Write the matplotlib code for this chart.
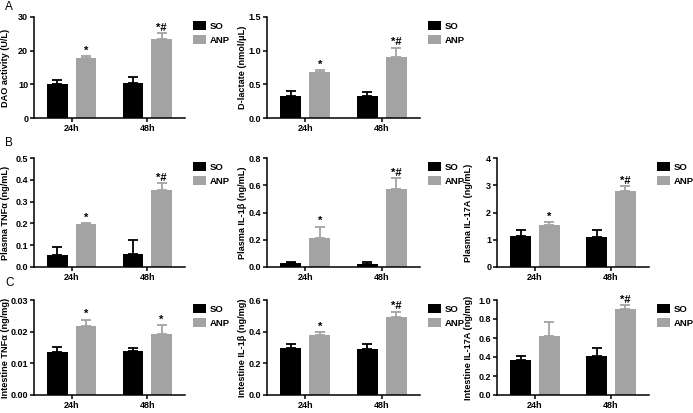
import matplotlib
matplotlib.use("Agg")
import matplotlib.pyplot as plt
import numpy as np

plt.rcParams['font.family'] = ['Liberation Sans', 'DejaVu Sans']

groups = ["24h", "48h"]
series = ["SO", "ANP"]
colors = ["#000000", "#a3a3a3"]

# means and upper error (SEM)
dao_so, dao_so_err = [10.0, 10.4], [1.3, 1.8]
dao_anp, dao_anp_err = [17.8, 23.6], [0.5, 1.6]

dlac_so, dlac_so_err = [0.32, 0.32], [0.08, 0.07]
dlac_anp, dlac_anp_err = [0.69, 0.90], [0.02, 0.14]

ptnf_so, ptnf_so_err = [0.055, 0.060], [0.037, 0.066]
ptnf_anp, ptnf_anp_err = [0.197, 0.353], [0.005, 0.032]

pil1_so, pil1_so_err = [0.030, 0.022], [0.005, 0.018]
pil1_anp, pil1_anp_err = [0.215, 0.570], [0.080, 0.080]

pil17_so, pil17_so_err = [1.15, 1.10], [0.22, 0.25]
pil17_anp, pil17_anp_err = [1.55, 2.80], [0.10, 0.17]

itnf_so, itnf_so_err = [0.0137, 0.0140], [0.0015, 0.0010]
itnf_anp, itnf_anp_err = [0.0218, 0.0193], [0.0020, 0.0027]

iil1_so, iil1_so_err = [0.295, 0.293], [0.025, 0.030]
iil1_anp, iil1_anp_err = [0.380, 0.490], [0.015, 0.035]

iil17_so, iil17_so_err = [0.37, 0.41], [0.04, 0.08]
iil17_anp, iil17_anp_err = [0.62, 0.905], [0.15, 0.04]

panels = [
    # row, col, ylabel, so, so_err, anp, anp_err, ymax, step, fmt, marks
    (0, 0, "DAO activity (U/L)", dao_so, dao_so_err, dao_anp, dao_anp_err, 30, 10, "%d", ["*", "*#"]),
    (0, 1, "D-lactate (nmol/\u03bcL)", dlac_so, dlac_so_err, dlac_anp, dlac_anp_err, 1.5, 0.5, "%.1f", ["*", "*#"]),
    (1, 0, "Plasma TNF\u03b1 (ng/mL)", ptnf_so, ptnf_so_err, ptnf_anp, ptnf_anp_err, 0.5, 0.1, "%.1f", ["*", "*#"]),
    (1, 1, "Plasma IL-1\u03b2 (ng/mL)", pil1_so, pil1_so_err, pil1_anp, pil1_anp_err, 0.8, 0.2, "%.1f", ["*", "*#"]),
    (1, 2, "Plasma IL-17A (ng/mL)", pil17_so, pil17_so_err, pil17_anp, pil17_anp_err, 4, 1, "%d", ["*", "*#"]),
    (2, 0, "Intestine TNF\u03b1 (ng/mg)", itnf_so, itnf_so_err, itnf_anp, itnf_anp_err, 0.03, 0.01, "%.2f", ["*", "*"]),
    (2, 1, "Intestine IL-1\u03b2 (ng/mg)", iil1_so, iil1_so_err, iil1_anp, iil1_anp_err, 0.6, 0.2, "%.1f", ["*", "*#"]),
    (2, 2, "Intestine IL-17A (ng/mg)", iil17_so, iil17_so_err, iil17_anp, iil17_anp_err, 1.0, 0.2, "%.1f", ["", "*#"]),
]

W, H = 693, 413
fig = plt.figure(figsize=(W / 100, H / 100), dpi=100)

col_left = [34, 267, 497]
col_w = [151, 153, 152]
label_px = [10, 247, 473]   # right edge of the rotated y label, in pixels
rows = [(17, 118), (158, 267), (300, 395)]

for row, col, ylabel, so, so_err, anp, anp_err, ymax, step, fmt, marks in panels:
    top, bot = rows[row]
    ax = fig.add_axes([col_left[col] / W, 1 - bot / H, col_w[col] / W, (bot - top) / H])
    x = np.arange(len(groups))
    bw, off = 0.27, 0.19
    for k, (vals, errs) in enumerate([(so, so_err), (anp, anp_err)]):
        xs = x + (off if k else -off)
        ax.bar(xs, vals, bw, color=colors[k], label=series[k], zorder=2)
        ax.errorbar(xs, vals, yerr=[np.zeros(len(vals)), errs], fmt="none",
                    ecolor=colors[k], elinewidth=1.3, capsize=3.5, capthick=1.3, zorder=1)
    for i, m in enumerate(marks):
        if m:
            ax.text(x[i] + off, anp[i] + anp_err[i] + ymax * 0.005, m, ha="center",
                    va="bottom", fontsize=8, fontweight="bold")
    ax.set_xlim(-0.5, 1.5)
    ax.set_ylim(0, ymax)
    ax.set_yticks(np.arange(0, ymax + step / 2, step))
    ax.yaxis.set_major_formatter(matplotlib.ticker.FormatStrFormatter(fmt))
    ax.set_xticks(x)
    ax.set_xticklabels(groups)
    for s in ("top", "right"):
        ax.spines[s].set_visible(False)
    for s in ("left", "bottom"):
        ax.spines[s].set_linewidth(1.1)
    ax.tick_params(axis="both", labelsize=6.5, width=1.1, length=3, pad=1.2)
    for lab in ax.get_xticklabels() + ax.get_yticklabels():
        lab.set_fontweight("bold")
    ax.set_ylabel(ylabel, fontsize=6.6, fontweight="bold")
    ax.yaxis.set_label_coords((label_px[col] - col_left[col]) / col_w[col], 0.5)
    leg = ax.legend(loc="upper left", bbox_to_anchor=(1.03, 1.0), frameon=False,
                    fontsize=6.8, handlelength=1.35, handleheight=1.1,
                    labelspacing=0.5, borderaxespad=0, handletextpad=0.4)
    for t in leg.get_texts():
        t.set_fontweight("bold")

for letter, ypix in [("A", 7), ("B", 143), ("C", 283)]:
    fig.text(5 / W, 1 - ypix / H, letter, fontsize=8.5, va="center", ha="left")

fig.savefig("out.png", dpi=100)
